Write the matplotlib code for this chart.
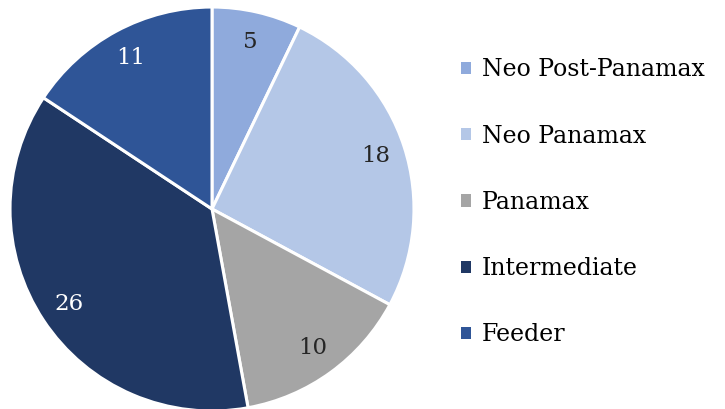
import matplotlib.pyplot as plt

categories = ["Neo Post-Panamax", "Neo Panamax", "Panamax", "Intermediate", "Feeder"]
values = [5, 18, 10, 26, 11]
colors = ["#8faadc", "#b4c7e7", "#a5a5a5", "#203864", "#2f5597"]
text_colors = ["#262626", "#262626", "#262626", "white", "white"]

plt.rcParams['font.family'] = ['DejaVu Serif']

fig = plt.figure(figsize=(7.25, 4.09), dpi=100)
ax = fig.add_axes([8/725, -4/409, 408/725, 408/409])

wedges, texts = ax.pie(values, colors=colors, labels=[str(v) for v in values],
                       startangle=90, counterclock=False, labeldistance=0.85,
                       wedgeprops=dict(edgecolor="white", linewidth=2.2),
                       textprops=dict(fontsize=16.5))
for t, c in zip(texts, text_colors):
    t.set_color(c)
    t.set_horizontalalignment("center")
    t.set_verticalalignment("center")
ax.set_xlim(-1.01, 1.01)
ax.set_ylim(-1.01, 1.01)
ax.set_aspect("equal")

leg = fig.legend(wedges, categories, loc="upper left", bbox_to_anchor=(452/725, 1 - 49/409),
                 frameon=False, fontsize=17, handlelength=0.42, handleheight=0.42,
                 handletextpad=0.45, labelspacing=1.83, borderaxespad=0)
for h in leg.legend_handles:
    h.set_edgecolor("none")

fig.savefig("out.png", dpi=100)
